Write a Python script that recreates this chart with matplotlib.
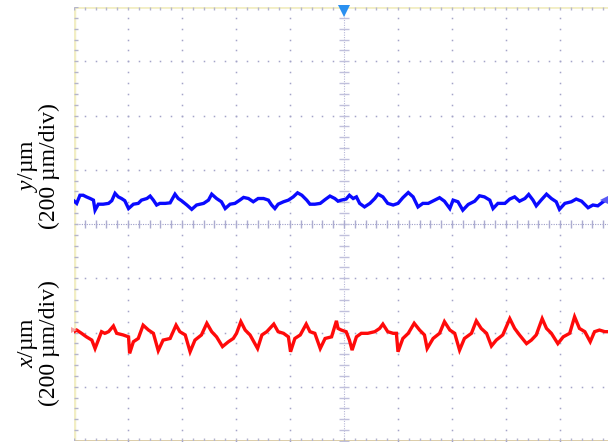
import numpy as np
import matplotlib.pyplot as plt

plt.rcParams['font.family'] = ['Liberation Serif', 'DejaVu Serif']
plt.rcParams['mathtext.fontset'] = 'custom'
plt.rcParams['mathtext.rm'] = 'Liberation Serif'
plt.rcParams['mathtext.it'] = 'Liberation Serif:italic'

# y channel (blue): time in divisions, displacement in um around its offset
t_y = [0.00, 0.05, 0.11, 0.17, 0.23, 0.30, 0.36, 0.39, 0.45, 0.54, 0.64, 0.70, 0.76, 0.82,
       0.88, 0.94, 1.01, 1.10, 1.19, 1.25, 1.35, 1.41, 1.47, 1.53, 1.59, 1.69, 1.78, 1.87,
       1.93, 1.99, 2.09, 2.18, 2.27, 2.40, 2.49, 2.55, 2.64, 2.73, 2.80, 2.89, 2.98, 3.07,
       3.14, 3.23, 3.32, 3.41, 3.51, 3.60, 3.66, 3.72, 3.78, 3.88, 3.97, 4.06, 4.14, 4.22,
       4.31, 4.37, 4.46, 4.56, 4.65, 4.74, 4.83, 4.89, 4.95, 5.04, 5.10, 5.17, 5.23, 5.29,
       5.38, 5.48, 5.57, 5.63, 5.72, 5.81, 5.91, 6.00, 6.09, 6.19, 6.28, 6.37, 6.46, 6.56,
       6.68, 6.77, 6.86, 6.96, 7.02, 7.11, 7.20, 7.30, 7.42, 7.51, 7.60, 7.70, 7.76, 7.85,
       7.98, 8.07, 8.16, 8.25, 8.35, 8.42, 8.50, 8.56, 8.65, 8.75, 8.84, 8.93, 8.99, 9.09,
       9.21, 9.30, 9.40, 9.52, 9.61, 9.70, 9.80, 9.89]
y_um = [-3, -12, 18, 18, 12, 6, 0, -37, -15, -15, -12, -2, 25, 12,
        6, -2, -31, -15, -12, 0, 6, 15, 0, -18, -12, -12, -10, 22,
        6, -2, -18, -34, -18, -12, 0, 22, 6, -6, -31, -15, -12, 0,
        10, 6, -6, 6, 6, 0, -18, -31, -15, -6, 0, 12, 27, 18,
        0, -15, -15, -12, 2, 15, 6, -4, 0, 4, 18, 6, 12, -12,
        -25, -12, 6, 22, 12, -12, -18, -12, 9, 28, 12, -25, -12, -12,
        0, 9, -4, -31, 0, -6, -37, -16, -4, 16, 12, 0, -31, -12,
        -12, 4, 12, -4, 6, 21, 0, -21, 0, 22, 6, -6, -34, -12,
        -6, 4, -4, -28, -18, -21, -6, 6]
y_offset_um = 88

# x channel (red)
t_x = [0.00, 0.05, 0.14, 0.23, 0.33, 0.39, 0.45, 0.51, 0.57, 0.64, 0.73, 0.79, 0.91, 1.01,
       1.03, 1.10, 1.19, 1.28, 1.38, 1.47, 1.56, 1.65, 1.78, 1.89, 1.96, 2.06, 2.15, 2.24,
       2.36, 2.46, 2.55, 2.64, 2.75, 2.86, 2.95, 3.01, 3.09, 3.17, 3.26, 3.40, 3.48, 3.57,
       3.70, 3.78, 3.88, 3.97, 4.01, 4.09, 4.19, 4.30, 4.37, 4.46, 4.56, 4.65, 4.77, 4.86,
       4.89, 4.95, 5.04, 5.10, 5.15, 5.23, 5.32, 5.44, 5.57, 5.66, 5.72, 5.81, 5.91, 5.97,
       6.00, 6.09, 6.19, 6.30, 6.40, 6.49, 6.54, 6.65, 6.77, 6.86, 6.96, 7.05, 7.14, 7.23,
       7.36, 7.45, 7.54, 7.64, 7.73, 7.82, 7.94, 8.07, 8.16, 8.25, 8.38, 8.47, 8.56, 8.67,
       8.75, 8.84, 8.96, 9.06, 9.18, 9.27, 9.36, 9.46, 9.56, 9.64, 9.73, 9.83, 9.89]
x_um = [5, 11, -1, -14, -26, -57, -26, 5, -1, 5, 26, -1, -7, -14,
        -75, -32, -20, 29, 11, -1, -65, -26, -20, 29, 5, -7, -69, -26,
        -7, 36, 5, -14, -50, -32, -20, -1, 42, 11, -7, -57, -7, 5,
        33, 5, -1, -14, -69, -20, -7, 33, 5, -1, -57, -20, -14, 45,
        17, 11, 5, -26, -63, -14, -1, -1, 5, 17, 33, 5, -1, -1,
        -69, -20, -1, 36, 11, -7, -57, -20, -1, 42, 11, -1, -63, -20,
        -1, 45, 17, -1, -48, -26, -7, 53, 17, -7, -39, -26, -7, 53,
        17, -1, -39, -14, -1, 60, 17, 5, -32, 5, 11, 5, 5]
x_offset_um = -402

um_per_div = 200
n_xdiv = 534 / 54  # screen is cut at the right edge

fig = plt.figure(figsize=(6.08, 4.43), dpi=100)
ax = fig.add_axes([74 / 608, 2 / 443, 534 / 608, 434 / 443])
ax.set_xlim(0, n_xdiv)
ax.set_ylim(-4 * um_per_div, 4 * um_per_div)
ax.axis('off')

grid_c = '#a4a4c8'
minor_x = np.arange(0, n_xdiv, 0.2)
minor_y = np.arange(-800, 801, 40)

# dotted graticule
for gx in [1, 2, 3, 4, 6, 7, 8, 9]:
    ax.plot(np.full(minor_y.size, gx), minor_y, ls='none', marker='s', ms=1.1,
            mew=0, color=grid_c)
for gy in [-600, -400, -200, 200, 400, 600]:
    ax.plot(minor_x, np.full(minor_x.size, gy), ls='none', marker='s', ms=1.1,
            mew=0, color=grid_c)

# centre axes with ticks
ax.axvline(5, color='#b8b8d8', lw=0.8, ls=(0, (1, 1.2)))
ax.axhline(0, color='#9c9cc8', lw=0.8, ls=(0, (1, 1.2)))
ax.plot(np.full(minor_y.size, 5), minor_y, ls='none', marker='_', ms=7, mew=1,
        color='#c0c0dc')
ax.plot(minor_x, np.zeros(minor_x.size), ls='none', marker='|', ms=6, mew=1,
        color='#acacd0')

# frame edges
ax.axvline(0, color='#f2eec4', lw=2.5)
ax.axhline(800, color='#f2eec4', lw=2)
ax.axhline(-800, color='#d8c8a0', lw=2)
tick_c = '#b4b4cc'
ax.hlines(minor_y, 0, 0.08, color=tick_c, lw=1)
ax.vlines(minor_x, 800 - 12, 800, color=tick_c, lw=1)
ax.vlines(minor_x, -800, -800 + 12, color=tick_c, lw=1)

# traces
ax.plot(t_y, np.array(y_um) + y_offset_um, color='#0a0aff', lw=2.4,
        solid_joinstyle='miter')
ax.plot(t_x, np.array(x_um) + x_offset_um, color='#ff0a0a', lw=2.4,
        solid_joinstyle='miter')

# channel / trigger markers
ax.plot(5, 785, marker='v', ms=9, color='#2a90f0', mew=0, clip_on=False)
ax.plot(n_xdiv, y_offset_um, marker='<', ms=12, color='#5a5af5', mew=0, clip_on=False)
ax.plot(0, x_offset_um + 10, marker='>', ms=5, color='#f4a0a0', mew=0, clip_on=False)

# channel labels
fig.text(38 / 608, 1 - 166 / 443, '$y$/µm\n(200 µm/div)', rotation=90,
         ha='center', va='center', multialignment='center', fontsize=17,
         linespacing=0.95)
fig.text(38 / 608, 1 - 343 / 443, '$x$/µm\n(200 µm/div)', rotation=90,
         ha='center', va='center', multialignment='center', fontsize=17,
         linespacing=0.95)

fig.savefig('out.png', dpi=100)
